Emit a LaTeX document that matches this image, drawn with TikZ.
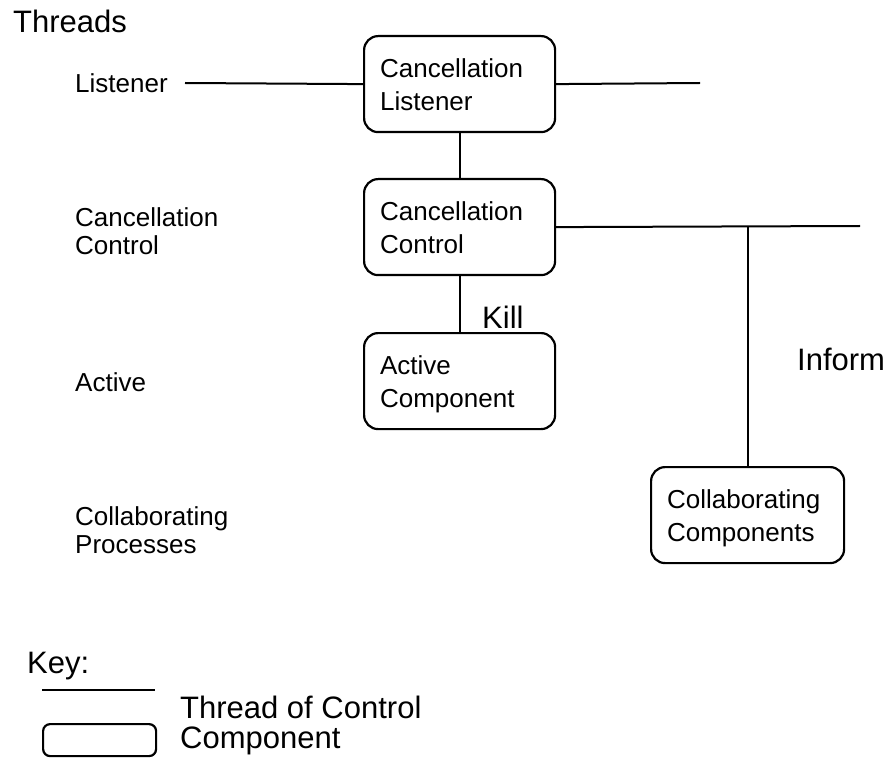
\documentclass[tikz,border=0pt]{standalone}
\usepackage{fontspec}
\setmainfont{Liberation Sans}
\begin{document}
\begin{tikzpicture}[x=1pt,y=-1pt,
  thread/.style={line width=2pt},
  comp/.style={draw,line width=2.2pt,rounded corners=14pt,anchor=north west,
    inner xsep=16pt,inner ysep=0pt,text width=159pt,align=left,
    font=\fontsize{26}{33}\selectfont,text height=41pt,text depth=55pt},
  lbl/.style={inner sep=0pt,anchor=north west,text width=220pt,align=left,
    font=\fontsize{26}{28}\selectfont,text height=20pt,text depth=0pt},
  big/.style={inner sep=0pt,anchor=base west,font=\fontsize{31}{36}\selectfont}]
\useasboundingbox (0,0) rectangle (886,759);

% thread names down the left side
\node[big] (threads) at (13,33) {Threads};
\node[lbl] (tListener) at (75,72) {Listener};
\node[lbl] (tControl) at (75,206) {Cancellation\\Control};
\node[lbl] (tActive) at (75,371) {Active};
\node[lbl] (tCollab) at (75,505) {Collaborating\\Processes};

% components
\node[comp] (cl) at (363,35) {Cancellation\\Listener};
\node[comp] (cc) at (363,178) {Cancellation\\Control};
\node[comp] (ac) at (363,332) {Active\\Component};
\node[comp,text width=161pt] (co) at (650,466) {Collaborating\\Components};

% threads of control
\coordinate (lstart) at (185,83);
\coordinate (lend) at (700,83);
\coordinate (ccend) at (860,226);
\draw[thread] (lstart) -- (cl.west);
\draw[thread] (cl.east) -- (lend);
\draw[thread] (cl.south) -- (cc.north);
\draw[thread] (cc.east) -- (ccend);
\draw[thread] (cc.south) -- (ac.north);
\draw[thread] (co.north |- cc.east) -- (co.north);

\node[big] (kill) at (482,328) {Kill};
\node[big] (inform) at (797,370) {Inform};

% key
\node[big] (key) at (27,673) {Key:};
\coordinate (k1) at (42,690);
\coordinate (k2) at (155,690);
\draw[thread] (k1) -- (k2);
\node[draw,line width=2.2pt,rounded corners=7pt,minimum width=113pt,minimum height=32pt,
  inner sep=0pt,anchor=north west] (kbox) at (42,723) {};
\node[big] (kthread) at (180,718) {Thread of Control};
\node[big] (kcomp) at (180,748) {Component};
\end{tikzpicture}
\end{document}
